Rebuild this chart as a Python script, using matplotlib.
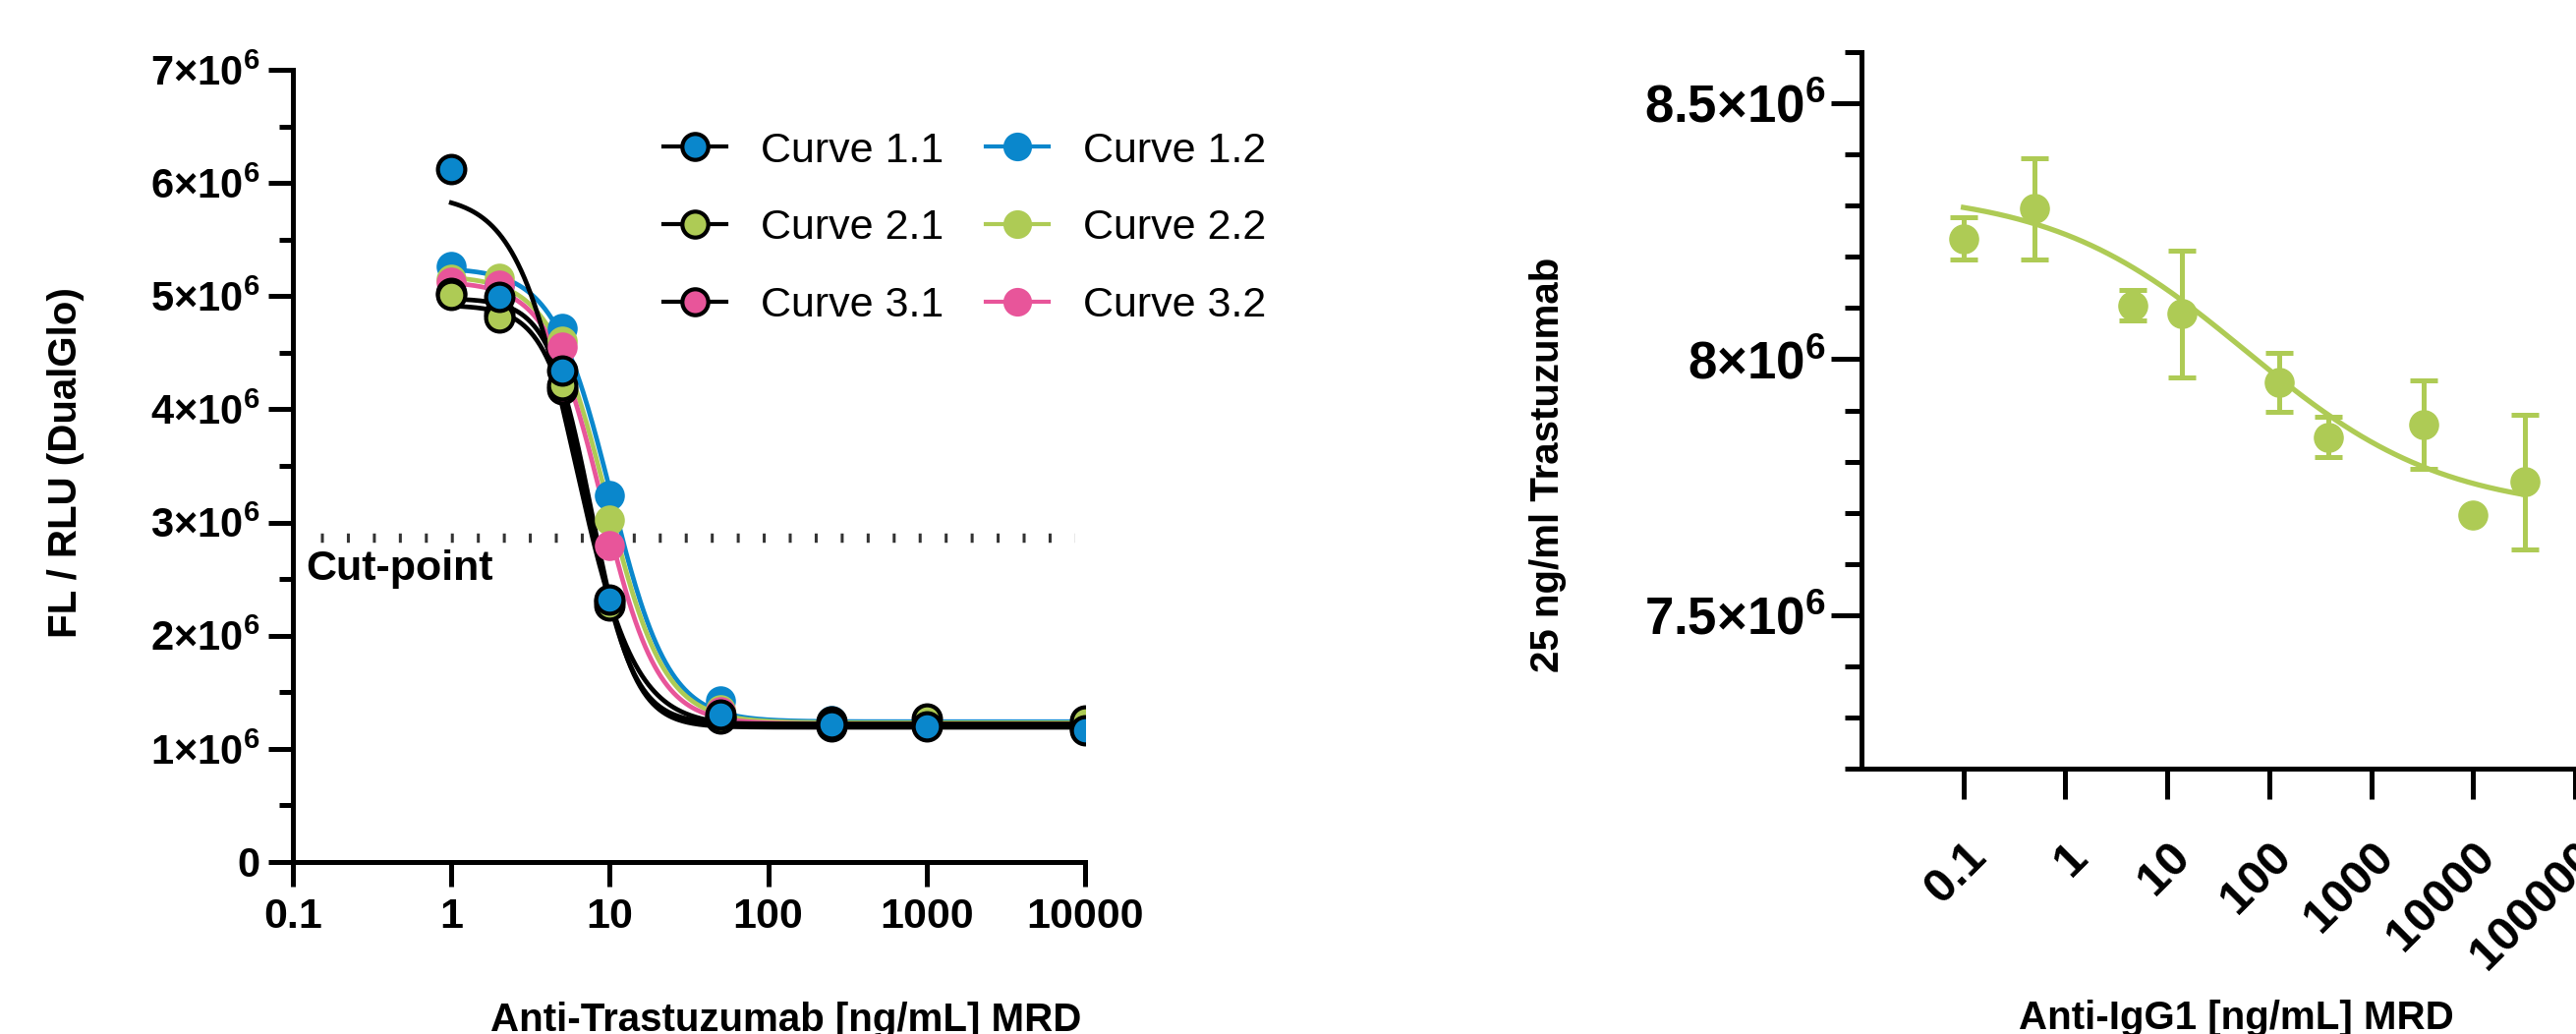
import numpy as np
import matplotlib
matplotlib.use("Agg")
import matplotlib.pyplot as plt
from matplotlib.lines import Line2D
from matplotlib.ticker import FixedLocator, FixedFormatter, MultipleLocator, NullLocator

plt.rcParams["font.family"] = ["Liberation Sans", "DejaVu Sans"]
plt.rcParams["mathtext.fontset"] = "custom"
plt.rcParams["mathtext.rm"] = "Liberation Sans:bold"
plt.rcParams["mathtext.bf"] = "Liberation Sans:bold"
plt.rcParams["mathtext.it"] = "Liberation Sans:bold"

BLUE = "#0A87CC"
GREEN = "#AECB55"
PINK = "#E8559A"

# ---- left panel: Anti-Trastuzumab dilution ----
conc = [1, 2, 5, 10, 50, 250, 1000, 10000]
curve_11 = [6.12e6, 4.99e6, 4.34e6, 2.32e6, 1.30e6, 1.22e6, 1.20e6, 1.16e6]
curve_21 = [5.01e6, 4.81e6, 4.21e6, 2.27e6, 1.27e6, 1.24e6, 1.27e6, 1.25e6]
curve_31 = [5.03e6, 4.85e6, 4.18e6, 2.30e6, 1.28e6, 1.20e6, 1.22e6, 1.18e6]
curve_12 = [5.26e6, 5.10e6, 4.72e6, 3.24e6, 1.42e6, 1.25e6, 1.22e6, 1.20e6]
curve_22 = [5.15e6, 5.16e6, 4.60e6, 3.02e6, 1.35e6, 1.24e6, 1.24e6, 1.22e6]
curve_32 = [5.12e6, 5.10e6, 4.55e6, 2.80e6, 1.33e6, 1.23e6, 1.24e6, 1.23e6]

# 4PL fit parameters: top, bottom, EC50, hill
fit_11 = [5.90e6, 1.20e6, 6.0, 2.3]
fit_21 = [4.92e6, 1.22e6, 7.5, 3.1]
fit_31 = [4.98e6, 1.19e6, 7.7, 3.2]
fit_12 = [5.25e6, 1.24e6, 10.2, 2.4]
fit_22 = [5.18e6, 1.23e6, 9.6, 2.4]
fit_32 = [5.13e6, 1.22e6, 9.0, 2.5]

cut_point = 2.87e6
cut_span = [0.149, 8500]

left_xticks = [0.1, 1, 10, 100, 1000, 10000]
left_xlabels = ["0.1", "1", "10", "100", "1000", "10000"]
left_yticks = [0, 1e6, 2e6, 3e6, 4e6, 5e6, 6e6, 7e6]
left_ylabels = ["0", "1×10$^{6}$", "2×10$^{6}$", "3×10$^{6}$", "4×10$^{6}$",
                "5×10$^{6}$", "6×10$^{6}$", "7×10$^{6}$"]

# ---- right panel: Anti-IgG1 dilution ----
igg_conc = [0.1, 0.5, 4.6, 14, 125, 380, 3300, 10000, 32000]
igg_mean = [8.236e6, 8.294e6, 8.105e6, 8.089e6, 7.955e6, 7.848e6, 7.872e6, 7.695e6, 7.760e6]
igg_sd = [0.041e6, 0.099e6, 0.030e6, 0.124e6, 0.058e6, 0.040e6, 0.087e6, 0.0, 0.132e6]
igg_fit = [8.33e6, 7.70e6, 60, 0.45]

right_xticks = [0.1, 1, 10, 100, 1000, 10000, 100000]
right_xlabels = ["0.1", "1", "10", "100", "1000", "10000", "100000"]
right_yticks = [7.5e6, 8e6, 8.5e6]
right_ylabels = ["7.5×10$^{6}$", "8×10$^{6}$", "8.5×10$^{6}$"]


def four_pl(x, p):
    top, bottom, ec50, hill = p
    return bottom + (top - bottom) / (1 + (x / ec50) ** hill)


W, H = 2621, 1052
fig = plt.figure(figsize=(W / 100, H / 100), dpi=100)

# ================= left =================
ax = fig.add_axes([298 / W, 1 - 877 / H, 806 / W, 806 / H])
ax.set_xscale("log")
ax.set_xlim(0.1, 10000)
ax.set_ylim(0, 7e6)

xs = np.geomspace(conc[0], conc[-1], 400)
for p, col in [(fit_12, BLUE), (fit_22, GREEN), (fit_32, PINK)]:
    ax.plot(xs, four_pl(xs, p), color=col, lw=3.4, zorder=2)
for p in [fit_11, fit_21, fit_31]:
    ax.plot(xs, four_pl(xs, p), color="black", lw=3.4, zorder=3)

for ys, col in [(curve_12, BLUE), (curve_22, GREEN), (curve_32, PINK)]:
    ax.plot(conc, ys, "o", ms=22, mfc=col, mec=col, mew=0, zorder=4)
for ys, col in [(curve_31, PINK), (curve_21, GREEN), (curve_11, BLUE)]:
    ax.plot(conc, ys, "o", ms=20, mfc=col, mec="black", mew=3.0, zorder=5)

ax.plot(cut_span, [cut_point, cut_point], color="#333333", lw=6.8,
        ls=(0, (0.32, 2.48)), dash_capstyle="butt", zorder=1)
ax.text(0.12, 2.49e6, "Cut-point", fontsize=31, fontweight="bold",
        ha="left", va="baseline")

ax.xaxis.set_major_locator(FixedLocator(left_xticks))
ax.xaxis.set_major_formatter(FixedFormatter(left_xlabels))
ax.xaxis.set_minor_locator(NullLocator())
ax.yaxis.set_major_locator(FixedLocator(left_yticks))
ax.yaxis.set_major_formatter(FixedFormatter(left_ylabels))
ax.yaxis.set_minor_locator(MultipleLocator(5e5))

for s in ["top", "right"]:
    ax.spines[s].set_visible(False)
for s in ["left", "bottom"]:
    ax.spines[s].set_linewidth(3.6)
ax.tick_params(which="major", length=18, width=3.6, labelsize=30, pad=6)
ax.tick_params(which="minor", length=10, width=3.6)
ax.tick_params(axis="x", labelsize=31, pad=8)
for lab in ax.get_xticklabels() + ax.get_yticklabels():
    lab.set_fontweight("bold")

handles = []
for col in [BLUE, GREEN, PINK]:
    handles.append(Line2D([], [], color="black", lw=3.0, marker="o", ms=19,
                          mfc=col, mec="black", mew=3.0))
for col in [BLUE, GREEN, PINK]:
    handles.append(Line2D([], [], color=col, lw=3.0, marker="o", ms=21,
                          mfc=col, mec=col, mew=0))
labels = ["Curve 1.1", "Curve 2.1", "Curve 3.1", "Curve 1.2", "Curve 2.2", "Curve 3.2"]
fig.legend(handles, labels, ncol=2, frameon=False, fontsize=31,
           loc="upper left", bbox_to_anchor=(653 / W, 1 - 112 / H),
           borderpad=0, handlelength=1.5, handletextpad=0.8,
           columnspacing=1.0, labelspacing=0.9)

fig.text(67 / W, 1 - 471 / H, "FL / RLU (DualGlo)", rotation=90,
         fontsize=29, fontweight="bold", ha="center", va="center")
fig.text(800 / W, 1 - 1049 / H, "Anti-Trastuzumab [ng/mL] MRD",
         fontsize=29, fontweight="bold", ha="center", va="baseline")

# ================= right =================
bx = fig.add_axes([1894 / W, 1 - 782 / H, 829.6 / W, 729 / H])
bx.set_xscale("log")
bx.set_xlim(0.01, 1e6)
bx.set_ylim(7.2e6, 8.6e6)

xf = np.geomspace(igg_conc[0], igg_conc[-1], 400)
bx.plot(xf, four_pl(xf, igg_fit), color=GREEN, lw=3.8, zorder=2)
bx.errorbar(igg_conc, igg_mean, yerr=igg_sd, fmt="o", ms=21, color=GREEN,
            ecolor=GREEN, elinewidth=3.6, capsize=10, capthick=3.6, zorder=3)

bx.xaxis.set_major_locator(FixedLocator(right_xticks))
bx.xaxis.set_major_formatter(FixedFormatter(right_xlabels))
bx.xaxis.set_minor_locator(NullLocator())
bx.yaxis.set_major_locator(FixedLocator(right_yticks))
bx.yaxis.set_major_formatter(FixedFormatter(right_ylabels))
bx.yaxis.set_minor_locator(MultipleLocator(1e5))

for s in ["top", "right"]:
    bx.spines[s].set_visible(False)
for s in ["left", "bottom"]:
    bx.spines[s].set_linewidth(3.6)
bx.tick_params(which="major", length=22, width=3.6, pad=4)
bx.tick_params(which="minor", length=12, width=3.6)
bx.tick_params(axis="y", labelsize=38)
bx.tick_params(axis="x", labelsize=35, pad=26)
for lab in bx.get_yticklabels():
    lab.set_fontweight("bold")
for lab in bx.get_xticklabels():
    lab.set_fontweight("bold")
    lab.set_rotation(45)
    lab.set_ha("right")
    lab.set_va("top")
    lab.set_rotation_mode("anchor")

fig.text(1575 / W, 1 - 473 / H, "25 ng/ml Trastuzumab", rotation=90,
         fontsize=29, fontweight="bold", ha="center", va="center")
fig.text(2275 / W, 1 - 1047 / H, "Anti-IgG1 [ng/mL] MRD",
         fontsize=29, fontweight="bold", ha="center", va="baseline")

fig.savefig("out.png", dpi=100)
